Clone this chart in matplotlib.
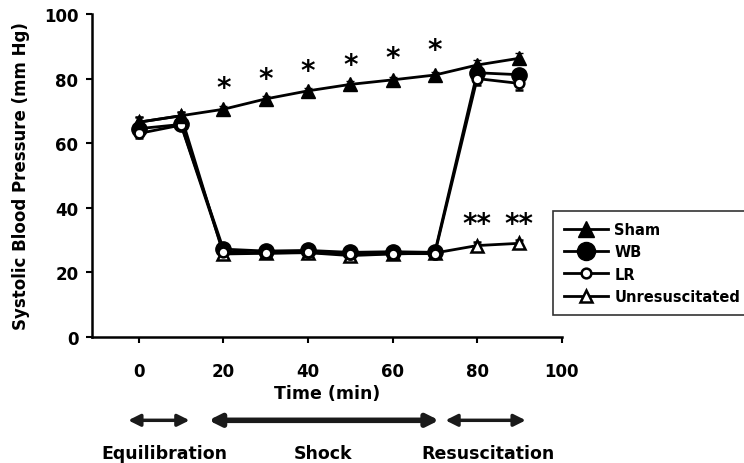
import matplotlib.pyplot as plt
from matplotlib.lines import Line2D

plt.rcParams['font.family'] = ['DejaVu Sans']
plt.rcParams['font.weight'] = 'bold'

time = [0, 10, 20, 30, 40, 50, 60, 70, 80, 90]
sham = [66.5, 68.5, 70.5, 73.7, 76.2, 78.2, 79.6, 81.1, 84.2, 86.3]
wb = [64.5, 65.8, 27.2, 26.6, 26.8, 26.2, 26.4, 26.2, 81.8, 81.2]
lr = [63.0, 65.6, 26.4, 26.0, 26.2, 25.6, 25.8, 25.8, 80.0, 78.5]
unres = [66.5, 68.5, 25.7, 25.9, 26.1, 25.2, 25.7, 26.0, 28.3, 29.0]
sham_err = [1.5, 1.2, 1.0, 1.0, 1.0, 1.0, 1.0, 1.0, 1.5, 1.5]
wb_err = [1.5, 1.2, 1.2, 1.0, 1.0, 1.0, 1.0, 1.0, 2.0, 1.8]
lr_err = [1.5, 1.2, 1.0, 1.0, 1.0, 1.0, 1.0, 1.0, 2.0, 2.0]
unres_err = [1.5, 1.2, 1.0, 1.0, 1.0, 1.0, 1.0, 1.0, 1.0, 1.0]

star_x = [20, 30, 40, 50, 60, 70]
star_y = [77.0, 80.0, 82.5, 84.2, 86.5, 88.7]
dstar_x = [80, 90]
dstar_y = [35.0, 35.0]

phases = ['Equilibration', 'Shock', 'Resuscitation']
phase_start = [-2.5, 16.5, 72.5]
phase_end = [12, 71, 91.5]
phase_label_x = [6, 43.5, 82.5]

fig = plt.figure(figsize=(7.44, 4.64), dpi=100)
ax = fig.add_axes([0.124, 0.2716, 0.631, 0.6961])

style = dict(color='black', lw=2, capsize=3, elinewidth=1.5)
ax.errorbar(time, unres, yerr=unres_err, marker='^', ms=8,
            mfc='white', mec='black', mew=1.8, **style)
ax.errorbar(time, wb, yerr=wb_err, marker='o', ms=11,
            mfc='black', mec='black', **style)
ax.errorbar(time, lr, yerr=lr_err, marker='o', ms=7,
            mfc='white', mec='black', mew=1.8, **style)
ax.errorbar(time, sham, yerr=sham_err, marker='^', ms=10,
            mfc='black', mec='black', **style)

for x, y in zip(star_x, star_y):
    ax.text(x, y, '*', fontsize=20, ha='center', va='center')
for x, y in zip(dstar_x, dstar_y):
    ax.text(x, y, '**', fontsize=20, ha='center', va='center')

ax.set_xlim(-11, 100)
ax.set_ylim(0, 100)
ax.set_xticks([0, 20, 40, 60, 80, 100])
ax.set_yticks([0, 20, 40, 60, 80, 100])
ax.tick_params(labelsize=12, width=1.5, length=4)
ax.tick_params(axis='x', pad=14)
ax.tick_params(axis='y', pad=6)
ax.spines['top'].set_visible(False)
ax.spines['right'].set_visible(False)
ax.spines['left'].set_linewidth(1.8)
ax.spines['bottom'].set_linewidth(1.8)
ax.set_xlabel('Time (min)', fontsize=12.5, fontweight='bold', labelpad=3)
ax.set_ylabel('Systolic Blood Pressure (mm Hg)', fontsize=12, fontweight='bold', labelpad=10)

handles = [
    Line2D([], [], color='black', lw=2, marker='^', ms=11, mfc='black'),
    Line2D([], [], color='black', lw=2, marker='o', ms=13, mfc='black'),
    Line2D([], [], color='black', lw=2, marker='o', ms=7, mfc='white', mew=1.8),
    Line2D([], [], color='black', lw=2, marker='^', ms=9, mfc='white', mew=1.8),
]
labels = ['Sham', 'WB', 'LR', 'Unresuscitated']
leg = fig.legend(handles, labels, loc='upper left',
                 bbox_to_anchor=(553 / 744, 1 - 212 / 464), borderaxespad=0,
                 fontsize=10.5, frameon=True, fancybox=False, edgecolor='black',
                 handlelength=3.0, handletextpad=0.45, labelspacing=0.5,
                 borderpad=0.75)
leg.get_frame().set_linewidth(1.2)

for s, e, lx, name in zip(phase_start, phase_end, phase_label_x, phases):
    lw = 4 if name == 'Shock' else 2.5
    ax.annotate('', xy=(e, -0.258), xytext=(s, -0.258),
                xycoords=('data', 'axes fraction'), textcoords=('data', 'axes fraction'),
                arrowprops=dict(arrowstyle='<|-|>,head_length=0.5,head_width=0.25',
                                color='#1a1a1a', lw=lw, mutation_scale=14,
                                shrinkA=0, shrinkB=0),
                annotation_clip=False)
    ax.text(lx, -0.36, name, transform=ax.get_xaxis_transform(), fontsize=12.5,
            ha='center', va='center', fontweight='bold')

fig.savefig('out.png', dpi=100)
